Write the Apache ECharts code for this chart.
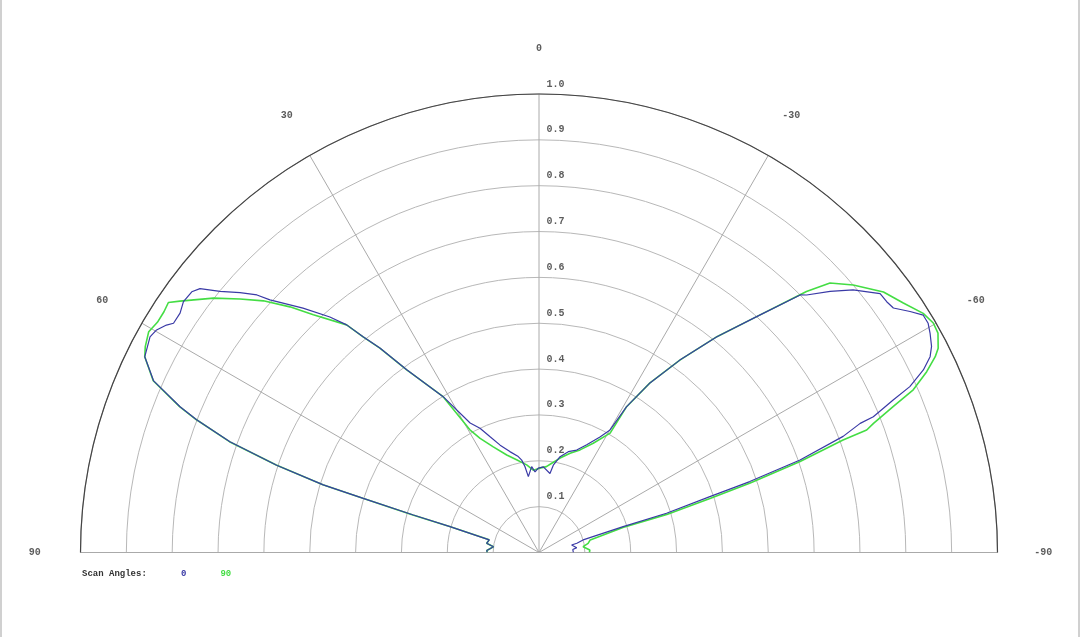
<!DOCTYPE html>
<html>
<head>
<meta charset="utf-8">
<script src="https://cdn.jsdelivr.net/npm/echarts@6/dist/echarts.min.js"></script>
<style>
html,body{margin:0;padding:0;background:#fff;}
#chart{width:1080px;height:637px;position:relative;}
#frame{position:absolute;left:0;top:0;width:1080px;height:637px;box-sizing:border-box;border-left:2px solid #d0d0d0;border-right:2px solid #d0d0d0;pointer-events:none;}
</style>
</head>
<body>
<div id="chart"></div>
<div id="frame"></div>
<script>
// ---- data (angle in degrees, positive to the left; radius normalised 0..1) ----
const scan0Angle = [90, 87.8, 82.8, 80.0, 75.7, 73.8, 73.4, 72.9, 72.6, 71.6, 70.3, 68.8, 67.9, 66.0, 63.6, 61.0, 59.8, 58.6, 57.9, 56.3, 54.8, 53.1, 52.1, 50.7, 49.0, 47.6, 46.8, 44.0, 41.6, 40.2, 39.2, 37.9, 35.9, 31.6, 28.0, 25.4, 22.9, 19.9, 16.1, 12.2, 10.6, 9.3, 8.0, 4.9, 2.8, 0.5, -2.9, -7.9, -9.3, -12.4, -16.2, -20.2, -23.9, -27.8, -30.1, -31.0, -33.2, -36.2, -39.5, -42.7, -45.4, -46.1, -48.1, -50.1, -52.8, -54.2, -55.4, -57.0, -58.3, -59.5, -60.7, -62.3, -63.4, -64.6, -65.9, -66.7, -67.9, -68.1, -69.1, -70.5, -71.4, -71.9, -72.9, -72.9, -74.1, -76.3, -77.1, -82.7, -85.0, -90];
const scan0Value = [0.113, 0.114, 0.100, 0.116, 0.112, 0.202, 0.286, 0.401, 0.493, 0.603, 0.716, 0.801, 0.845, 0.920, 0.960, 0.970, 0.965, 0.952, 0.941, 0.941, 0.949, 0.947, 0.937, 0.899, 0.864, 0.833, 0.805, 0.741, 0.687, 0.650, 0.607, 0.565, 0.492, 0.399, 0.320, 0.300, 0.274, 0.249, 0.229, 0.214, 0.205, 0.190, 0.167, 0.188, 0.176, 0.184, 0.187, 0.174, 0.193, 0.214, 0.229, 0.238, 0.257, 0.285, 0.309, 0.371, 0.442, 0.520, 0.610, 0.700, 0.800, 0.810, 0.853, 0.893, 0.934, 0.935, 0.939, 0.965, 0.985, 0.985, 0.978, 0.967, 0.954, 0.928, 0.886, 0.841, 0.787, 0.755, 0.710, 0.604, 0.485, 0.392, 0.291, 0.192, 0.100, 0.085, 0.073, 0.083, 0.074, 0.075];

const scan90Angle = [90, 87.8, 82.8, 80.0, 75.7, 73.8, 73.4, 72.9, 72.6, 71.6, 70.3, 68.8, 67.9, 66.0, 63.6, 62.4, 60.5, 58.9, 57.3, 56.0, 55.0, 52.0, 49.7, 47.6, 45.4, 43.5, 40.2, 39.2, 37.9, 35.9, 31.6, 29.4, 27.3, 23.4, 18.3, 13.6, 8.0, 4.0, -0.5, -4.9, -7.9, -12.6, -17.4, -21.8, -26.4, -30.8, -31.0, -33.2, -36.2, -39.5, -42.7, -45.7, -47.2, -49.6, -52.9, -55.6, -58.1, -59.8, -61.2, -62.9, -63.7, -65.0, -66.5, -67.6, -68.9, -69.5, -69.7, -70.8, -71.8, -72.5, -73.4, -73.4, -76.2, -79.4, -82.5, -87.2, -90];
const scan90Value = [0.113, 0.114, 0.100, 0.116, 0.112, 0.203, 0.287, 0.402, 0.494, 0.604, 0.717, 0.802, 0.846, 0.921, 0.960, 0.969, 0.978, 0.972, 0.972, 0.975, 0.956, 0.901, 0.855, 0.814, 0.763, 0.715, 0.650, 0.607, 0.565, 0.492, 0.399, 0.307, 0.280, 0.251, 0.224, 0.208, 0.193, 0.180, 0.184, 0.188, 0.196, 0.211, 0.227, 0.241, 0.266, 0.303, 0.371, 0.442, 0.520, 0.610, 0.700, 0.815, 0.865, 0.900, 0.942, 0.963, 0.987, 0.995, 0.993, 0.978, 0.964, 0.933, 0.890, 0.836, 0.782, 0.763, 0.707, 0.603, 0.485, 0.391, 0.291, 0.191, 0.115, 0.109, 0.097, 0.111, 0.110];

const radialTicks = [0.1, 0.2, 0.3, 0.4, 0.5, 0.6, 0.7, 0.8, 0.9, 1.0];
const angleTicks = [-90, -60, -30, 0, 30, 60, 90];
const seriesNames = ['0', '90'];
const seriesColors = ['#3a3aa6', '#44dd44'];

// ---- chart ----
const MONO = '"Liberation Mono", "DejaVu Sans Mono", monospace';
const LABEL_RADIUS = 1.1; // angle labels sit just outside the 1.0 arc
const chart = echarts.init(document.getElementById('chart'), null, {renderer: 'canvas'});

function pairs(angles, values) {
  return angles.map((a, i) => [values[i], a]);
}

chart.setOption({
  animation: false,
  backgroundColor: '#ffffff',
  title: {
    text: 'Scan Angles:',
    left: 77, top: 564,
    textStyle: {fontFamily: MONO, fontSize: 9, fontWeight: 'bold', color: '#333'}
  },
  legend: {
    left: 170, top: 564,
    itemWidth: 0, itemHeight: 0, itemGap: 28,
    data: seriesNames.map((n, i) => ({name: n, textStyle: {color: seriesColors[i]}})),
    textStyle: {fontFamily: MONO, fontSize: 9, fontWeight: 'bold'}
  },
  polar: {center: [539, 552.5], radius: 458.5},
  angleAxis: {
    type: 'value', min: -90, max: 90, interval: 30,
    startAngle: 0, endAngle: 180, clockwise: false,
    axisLine: {show: true, lineStyle: {color: '#444', width: 1.2}},
    axisTick: {show: false},
    axisLabel: {show: false},
    splitLine: {show: true, lineStyle: {color: '#aaaaaa', width: 1}}
  },
  radiusAxis: {
    type: 'value', min: 0, max: 1, interval: 0.1,
    axisLine: {show: false}, axisTick: {show: false}, axisLabel: {show: false},
    splitLine: {show: true, lineStyle: {color: '#b8b8b8', width: 1}}
  },
  series: [
    {
      name: 'radial-labels', type: 'scatter', coordinateSystem: 'polar',
      data: radialTicks.map(r => [r, 0]),
      symbolSize: 1, itemStyle: {color: 'rgba(0,0,0,0)'}, silent: true, z: 5,
      label: {
        show: true, position: 'right', distance: 7, offset: [0, -10],
        fontFamily: MONO, fontSize: 10, fontWeight: 'bold', color: '#333',
        formatter: p => p.value[0].toFixed(1)
      }
    },
    {
      name: 'angle-labels', type: 'scatter', coordinateSystem: 'polar',
      data: angleTicks.map(a => [LABEL_RADIUS, a]),
      clip: false,
      symbolSize: 1, itemStyle: {color: 'rgba(0,0,0,0)'}, silent: true, z: 5,
      label: {
        show: true, position: 'inside',
        fontFamily: MONO, fontSize: 10, fontWeight: 'bold', color: '#333',
        formatter: p => String(p.value[1])
      }
    },
    {
      name: seriesNames[1], type: 'line', coordinateSystem: 'polar',
      data: pairs(scan90Angle, scan90Value),
      showSymbol: false, symbol: 'none', z: 3,
      lineStyle: {color: seriesColors[1], width: 1.6},
      itemStyle: {color: seriesColors[1]}
    },
    {
      name: seriesNames[0], type: 'line', coordinateSystem: 'polar',
      data: pairs(scan0Angle, scan0Value),
      showSymbol: false, symbol: 'none', z: 4,
      lineStyle: {color: seriesColors[0], width: 1.2},
      itemStyle: {color: seriesColors[0]}
    }
  ]
});
</script>
</body>
</html>
